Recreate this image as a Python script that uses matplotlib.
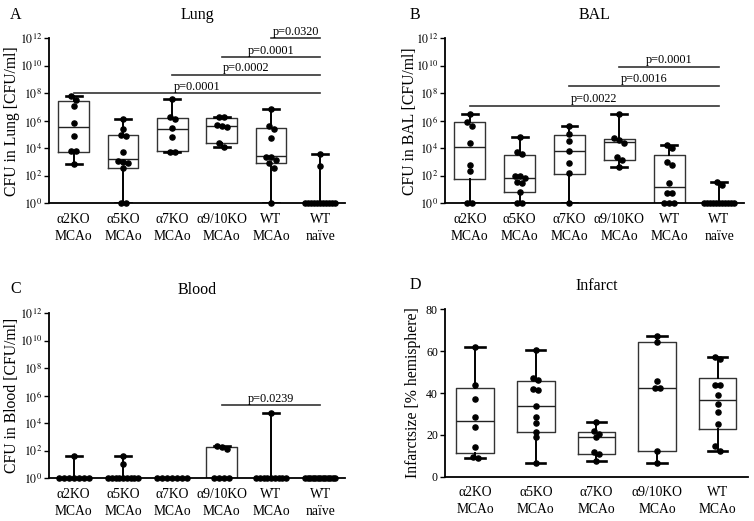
# Lung / BAL / Blood CFU and infarct size per genotype, box + dots

import numpy as np
import matplotlib
matplotlib.use('Agg')
import matplotlib.pyplot as plt
from matplotlib.ticker import NullLocator

plt.rcParams['font.family'] = ['Liberation Serif', 'DejaVu Serif']
plt.rcParams['mathtext.fontset'] = 'stix'

groups = ['α2KO\nMCAo', 'α5KO\nMCAo', 'α7KO\nMCAo', 'α9/10KO\nMCAo', 'WT\nMCAo', 'WT\nnaïve']

# CFU values read as log10(CFU/ml); 0 = no growth, drawn at 10^0
lung_a2 = [7.83, 7.5, 7.05, 5.84, 4.87, 3.8, 3.8, 2.86]
lung_a5 = [6.1, 5.4, 4.95, 4.9, 3.7, 3.1, 3.0, 2.9, 2.6, 0, 0]
lung_a7 = [7.56, 6.25, 6.11, 5.45, 4.8, 3.76, 3.76]
lung_a910 = [6.25, 6.25, 5.7, 5.62, 5.58, 4.41, 4.12]
lung_wt = [6.84, 5.62, 5.4, 4.73, 3.4, 3.35, 3.15, 2.9, 2.55, 0]
lung_naive = [3.6, 2.74, 0, 0, 0, 0, 0, 0, 0, 0, 0, 0, 0]
lung_q1 = [3.73, 2.57, 3.81, 4.41, 2.93, 0]
lung_med = [5.58, 3.25, 5.41, 5.62, 3.44, 0]
lung_q3 = [7.44, 4.94, 6.18, 6.18, 5.5, 0]
lung_lo = [2.86, 0, 3.76, 4.12, 0, 0]
lung_hi = [7.83, 6.1, 7.56, 6.25, 6.84, 3.6]
lung_sig_from = [0, 2, 3, 4]
lung_sig_y = [8.0, 9.33, 10.62, 12.0]
lung_sig_p = ['p=0.0001', 'p=0.0002', 'p=0.0001', 'p=0.0320']

bal_a2 = [6.47, 5.93, 5.62, 4.36, 2.79, 2.35, 0, 0]
bal_a5 = [4.85, 3.7, 3.6, 1.95, 1.95, 1.85, 1.55, 1.45, 0.85, 0, 0]
bal_a7 = [5.62, 5.03, 4.51, 3.78, 2.95, 2.18, 0]
bal_a910 = [6.49, 4.75, 4.6, 4.39, 3.35, 3.15, 2.66]
bal_wt = [4.22, 4.05, 3.03, 2.76, 1.45, 0.77, 0.77, 0, 0, 0]
bal_naive = [1.58, 1.33, 0, 0, 0, 0, 0, 0, 0, 0, 0, 0, 0]
bal_q1 = [1.75, 0.82, 2.15, 3.15, 0, 0]
bal_med = [4.07, 1.82, 3.78, 4.46, 1.21, 0]
bal_q3 = [5.89, 3.53, 4.99, 4.7, 3.49, 0]
bal_lo = [0, 0, 0, 2.66, 0, 0]
bal_hi = [6.47, 4.85, 5.62, 6.49, 4.22, 1.58]
bal_sig_from = [0, 2, 3]
bal_sig_y = [7.08, 8.53, 9.94]
bal_sig_p = ['p=0.0022', 'p=0.0016', 'p=0.0001']

blood_a2 = [1.62, 0, 0, 0, 0, 0, 0, 0]
blood_a5 = [1.62, 1.02, 0, 0, 0, 0, 0, 0, 0, 0, 0]
blood_a7 = [0, 0, 0, 0, 0, 0, 0]
blood_a910 = [2.38, 2.3, 2.13, 0, 0, 0, 0]
blood_wt = [4.73, 0, 0, 0, 0, 0, 0, 0, 0, 0]
blood_naive = [0, 0, 0, 0, 0, 0, 0, 0, 0, 0, 0, 0, 0]
blood_q1 = [0, 0, 0, 0, 0, 0]
blood_med = [0, 0, 0, 0, 0, 0]
blood_q3 = [0, 0, 0, 2.3, 0, 0]
blood_lo = [0, 0, 0, 0, 0, 0]
blood_hi = [1.62, 1.62, 0, 2.38, 4.73, 0]
blood_sig_from = [3]
blood_sig_y = [5.31]
blood_sig_p = ['p=0.0239']

# infarct size, % hemisphere
inf_a2 = [62.2, 44.1, 37.3, 28.8, 23.9, 14.2, 9.6, 8.8]
inf_a5 = [60.6, 47.0, 46.2, 41.9, 41.4, 33.9, 28.7, 25.8, 21.5, 19.1, 6.4]
inf_a7 = [26.3, 21.8, 20.2, 19.1, 11.6, 10.7, 7.5]
inf_a910 = [67.3, 64.4, 45.7, 42.2, 42.2, 12.4, 6.7]
inf_wt = [57.4, 56.1, 44.1, 43.8, 39.0, 34.6, 30.8, 25.0, 14.7, 12.4]
inf_q1 = [11.2, 21.5, 10.7, 12.4, 22.6]
inf_med = [26.5, 33.9, 19.1, 42.2, 36.5]
inf_q3 = [42.5, 45.7, 21.5, 64.4, 47.2]
inf_lo = [8.8, 6.4, 7.5, 6.7, 12.4]
inf_hi = [62.2, 60.6, 26.3, 67.3, 57.4]


def spread_x(ax, pos, vals, row_px=5.0, step_px=5.0, max_px=30.0):
    # put dots that sit at about the same height side by side
    vals = np.asarray(vals, dtype=float)
    pix = ax.transData.transform(np.column_stack([np.full(len(vals), pos), vals]))
    ypx = pix[:, 1]
    unit = ax.transData.transform([[1, 1]])[0, 0] - ax.transData.transform([[0, 1]])[0, 0]
    rows = []
    for i in np.argsort(-ypx, kind='stable'):
        if rows and abs(ypx[rows[-1][0]] - ypx[i]) < row_px:
            rows[-1].append(i)
        else:
            rows.append([i])
    xs = np.full(len(vals), float(pos))
    for r in rows:
        n = len(r)
        if n < 2:
            continue
        step = min(step_px, max_px / (n - 1))
        for k, i in enumerate(r):
            xs[i] = pos + (k - (n - 1) / 2) * step / unit
    return xs


def draw_panel(ax, series, q1, med, q3, lo, hi, conv):
    n = len(series)
    stats = []
    for i in range(n):
        stats.append(dict(q1=conv(q1[i]), med=conv(med[i]), q3=conv(q3[i]),
                          whislo=conv(lo[i]), whishi=conv(hi[i])))
    ax.bxp(stats, positions=range(n), widths=0.62, capwidths=0.32, showfliers=False,
           boxprops=dict(color='#333333', lw=1.0),
           medianprops=dict(color='#222222', lw=1.0),
           whiskerprops=dict(color='black', lw=1.4),
           capprops=dict(color='black', lw=1.9))
    for i, s in enumerate(series):
        v = conv(np.asarray(s, dtype=float))
        ax.plot(spread_x(ax, i, v), v, 'o', color='black', ms=3.7, zorder=4, clip_on=False)


def style(ax, labels, ylabel, title, lab_x):
    for side in ['top', 'right']:
        ax.spines[side].set_visible(False)
    for side in ['left', 'bottom']:
        ax.spines[side].set_linewidth(1.3)
    ax.set_xticks(range(len(labels)))
    ax.set_xticklabels(labels, fontsize=9.8, linespacing=1.35)
    ax.tick_params(axis='x', length=0, pad=7)
    ax.tick_params(axis='y', direction='out', length=3.5, width=1.0, labelsize=8.6, pad=1.5)
    ax.set_ylabel(ylabel, fontsize=11.3)
    ax.yaxis.set_label_coords(lab_x, 0.5)
    ax.text(0.5, 1.14, title, transform=ax.transAxes, ha='center', va='center', fontsize=11.5)


def log_axis(ax):
    ax.set_yscale('log')
    ax.set_ylim(1, 1e12)
    ax.set_xlim(-0.5, 5.5)
    ax.set_yticks([10.0 ** k for k in range(0, 13, 2)])
    ax.set_yticklabels([r'$10^{%d}$' % k for k in range(0, 13, 2)])
    ax.yaxis.set_minor_locator(NullLocator())


def sig_lines(ax, froms, ys, ps, to=5):
    for f, y, p in zip(froms, ys, ps):
        yv = 10.0 ** y
        ax.plot([f, to], [yv, yv], color='#333333', lw=1.2, clip_on=False)
        ax.annotate(p, ((f + to) / 2, yv), xytext=(0, 0.5), textcoords='offset points',
                    ha='center', va='bottom', fontsize=8.8, annotation_clip=False)


def to_cfu(x):
    return 10.0 ** np.asarray(x, dtype=float)


def ident(x):
    return x


fig = plt.figure(figsize=(7.54, 5.21), dpi=100)
axA = fig.add_axes([0.065, 0.6098, 0.3926, 0.3167])
axB = fig.add_axes([0.590, 0.6098, 0.3967, 0.3167])
axC = fig.add_axes([0.065, 0.0820, 0.3926, 0.3167])
axD = fig.add_axes([0.590, 0.0850, 0.4020, 0.3210])

for ax in [axA, axB, axC]:
    log_axis(ax)
axD.set_xlim(-0.5, 4.5)
axD.set_ylim(0, 80)
axD.set_yticks([0, 20, 40, 60, 80])

draw_panel(axA, [lung_a2, lung_a5, lung_a7, lung_a910, lung_wt, lung_naive],
           lung_q1, lung_med, lung_q3, lung_lo, lung_hi, to_cfu)
draw_panel(axB, [bal_a2, bal_a5, bal_a7, bal_a910, bal_wt, bal_naive],
           bal_q1, bal_med, bal_q3, bal_lo, bal_hi, to_cfu)
draw_panel(axC, [blood_a2, blood_a5, blood_a7, blood_a910, blood_wt, blood_naive],
           blood_q1, blood_med, blood_q3, blood_lo, blood_hi, to_cfu)
draw_panel(axD, [inf_a2, inf_a5, inf_a7, inf_a910, inf_wt],
           inf_q1, inf_med, inf_q3, inf_lo, inf_hi, ident)

sig_lines(axA, lung_sig_from, lung_sig_y, lung_sig_p)
sig_lines(axB, bal_sig_from, bal_sig_y, bal_sig_p)
sig_lines(axC, blood_sig_from, blood_sig_y, blood_sig_p)

style(axA, groups, 'CFU in Lung [CFU/ml]', 'Lung', -0.098)
style(axB, groups, 'CFU in BAL [CFU/ml]', 'BAL', -0.09)
style(axC, groups, 'CFU in Blood [CFU/ml]', 'Blood', -0.098)
style(axD, groups[:5], 'Infarctsize [% hemisphere]', 'Infarct', -0.08)

for letter, x, y in [('A', 16, 15), ('B', 415, 15), ('C', 16, 289), ('D', 415, 285)]:
    fig.text(x / 754, 1 - y / 521, letter, ha='center', va='center', fontsize=11.5)

fig.savefig('out.png', dpi=100)
